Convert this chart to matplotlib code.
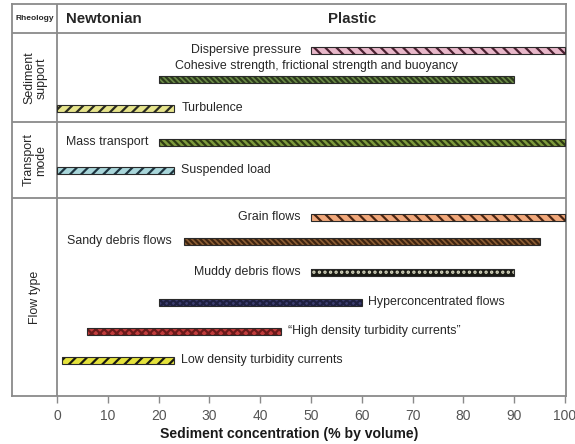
import matplotlib
matplotlib.use("Agg")
import matplotlib.pyplot as plt

plt.rcParams["font.family"] = ["Liberation Sans", "DejaVu Sans"]
plt.rcParams["hatch.linewidth"] = 1.6

# ---- data: sediment concentration ranges (% by volume) ----
labels = [
    "Dispersive pressure",
    "Cohesive strength, frictional strength and buoyancy",
    "Turbulence",
    "Mass transport",
    "Suspended load",
    "Grain flows",
    "Sandy debris flows",
    "Muddy debris flows",
    "Hyperconcentrated flows",
    "\u201cHigh density turbidity currents\u201d",
    "Low density turbidity currents",
]
starts = [50, 20, 0, 20, 0, 50, 25, 50, 20, 6, 1]
ends = [100, 90, 23, 100, 23, 100, 95, 90, 60, 44, 23]

groups = ["Sediment\nsupport", "Transport\nmode", "Flow type"]
ticks = [0, 10, 20, 30, 40, 50, 60, 70, 80, 90, 100]

# ---- layout / styling ----
rows = [50, 79, 108, 142, 170, 217, 241, 272, 302, 331, 360]
label_pos = [  # (x, y, ha)
    (48, 50, "right"),
    (51, 66, "center"),
    (24.5, 108, "left"),
    (18, 142, "right"),
    (24.5, 170, "left"),
    (48, 217, "right"),
    (22.5, 241, "right"),
    (48, 272, "right"),
    (61.3, 302, "left"),
    (45.5, 331, "left"),
    (24.5, 360, "left"),
]
fills = ["#e8b7c9", "#6b8a48", "#e6e48c", "#7d9a3c", "#a9d6da",
         "#f0a77a", "#8c5e35", "#1a1a14", "#3d3f70", "#c23c3c", "#e4e23c"]
hatch_cols = ["#4a2030", "#2c3b1c", "#2a2a20", "#2e3a12", "#1d3440",
              "#4a2512", "#3e2410", "#d8d8c0", "#1e1f40", "#6a1a1a", "#1a1a10"]
hatches = ["\\\\\\", "\\\\\\\\\\\\", "///", "\\\\\\\\\\", "///",
           "\\\\\\", "\\\\\\\\\\\\", "...", "xxxxx", "xxxx", "///"]
dividers = [33, 122, 198]
group_y = [78, 160, 297]

fig = plt.figure(figsize=(5.75, 4.44), dpi=100)
ax = fig.add_axes([12 / 575, 48 / 444, 554 / 575, 392 / 444])
ax.set_xlim(-8.86, 100.2)
ax.set_ylim(396, 4)

frame = "#8a8a8a"
for s in ax.spines.values():
    s.set_color(frame)
    s.set_linewidth(1.3)

# table grid
ax.axvline(0, color=frame, lw=1.3)
for y in dividers:
    ax.axhline(y, color=frame, lw=1.3)

# bars
bar_h = 7
for lab, a, b, y, fc, hc, h in zip(labels, starts, ends, rows, fills, hatch_cols, hatches):
    ax.barh(y, b - a, left=a, height=bar_h, color=fc, edgecolor=hc,
            hatch=h, linewidth=0, zorder=2)
    ax.barh(y, b - a, left=a, height=bar_h, fill=False,
            edgecolor="#2a2a2a", linewidth=0.8, zorder=3)

text_col = "#262626"
for lab, (x, y, ha) in zip(labels, label_pos):
    ax.text(x, y, lab, ha=ha, va="center", fontsize=8.9, color=text_col)

# header row
ax.text(-4.43, 18.5, "Rheology", ha="center", va="center", fontsize=6,
        fontweight="bold", color=text_col)
ax.text(1.7, 18.5, "Newtonian", ha="left", va="center", fontsize=10.8,
        fontweight="bold", color=text_col)
ax.text(58, 18.5, "Plastic", ha="center", va="center", fontsize=10.8,
        fontweight="bold", color=text_col)

# row group labels
for g, y in zip(groups, group_y):
    ax.text(-4.3, y, g, ha="center", va="center", rotation=90,
            fontsize=8.9, color=text_col, linespacing=1.05)

ax.set_yticks([])
ax.set_xticks(ticks)
ax.set_xticklabels([str(t) for t in ticks])
ax.tick_params(axis="x", direction="out", length=5, width=1.0,
               color=frame, labelsize=10, labelcolor="#555555", pad=4)
ax.set_xlabel("Sediment concentration (% by volume)", fontsize=10.1,
              fontweight="bold", color="#1a1a1a", labelpad=3)

fig.savefig("out.png", dpi=100, facecolor="white")
